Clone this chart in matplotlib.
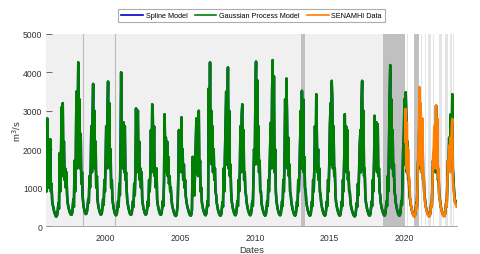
import matplotlib
matplotlib.use("Agg")
import matplotlib.pyplot as plt
import matplotlib.dates as mdates
import pandas as pd

plt.rcParams['font.family'] = ['Liberation Sans', 'DejaVu Sans']

# semi-monthly flow values (m3/s), Jan 1 .. Dec 16 for each year
gp_flow = [
    1650, 900, 2800, 1100, 2000, 1000, 1600, 2260, 900, 1100, 650, 550, 480, 400, 340, 290, 250, 250, 290, 400, 600, 450, 1900, 900,  # 1996
    1500, 3090, 1300, 3200, 1600, 2200, 1200, 1500, 1000, 1400, 800, 600, 520, 440, 380, 330, 300, 290, 330, 450, 700, 500, 1700, 900,  # 1997
    1800, 3500, 1500, 2600, 4260, 1800, 3300, 1500, 2400, 1100, 1400, 800, 600, 480, 400, 340, 310, 320, 380, 500, 700, 600, 1300, 1000,  # 1998
    1500, 2600, 1400, 2900, 3700, 1600, 3000, 1500, 2200, 1000, 1300, 700, 560, 470, 400, 340, 300, 300, 350, 480, 700, 550, 1200, 900,  # 1999
    1700, 2600, 1500, 3000, 3760, 1700, 3200, 1500, 2000, 1000, 1200, 700, 560, 460, 390, 330, 290, 280, 320, 450, 650, 500, 1100, 800,  # 2000
    2100, 4000, 1600, 2500, 1500, 2700, 1400, 2600, 1200, 1400, 900, 650, 540, 460, 390, 330, 300, 290, 330, 450, 650, 500, 1100, 800,  # 2001
    1500, 3060, 1400, 2500, 3000, 1500, 2200, 1200, 1500, 1000, 1400, 700, 560, 470, 400, 340, 300, 300, 340, 460, 650, 520, 1200, 900,  # 2002
    1400, 2500, 1400, 3170, 2900, 1500, 2600, 1300, 1500, 1000, 1500, 700, 560, 470, 400, 340, 300, 290, 330, 450, 650, 520, 1150, 2910,  # 2003
    1800, 2300, 1400, 2200, 1300, 1800, 1100, 1300, 900, 1000, 700, 560, 480, 410, 350, 300, 270, 260, 290, 400, 600, 1300, 2500, 1400,  # 2004
    2300, 1500, 2830, 1400, 2000, 1200, 1600, 1000, 1200, 800, 650, 560, 480, 420, 360, 310, 280, 270, 300, 420, 1800, 800, 1100, 800,  # 2005
    1500, 2000, 2800, 1400, 2300, 1300, 3000, 1300, 1700, 900, 1000, 620, 520, 440, 380, 330, 290, 280, 320, 450, 650, 520, 3580, 1800,  # 2006
    4260, 1700, 3000, 1600, 2600, 1400, 2000, 1200, 1500, 900, 800, 600, 500, 420, 360, 310, 280, 270, 300, 420, 620, 500, 1500, 900,  # 2007
    1800, 2500, 3500, 1600, 2800, 4130, 1500, 3000, 1300, 1600, 900, 650, 540, 450, 380, 330, 290, 280, 320, 450, 650, 520, 1200, 900,  # 2008
    1500, 2600, 1400, 2900, 3170, 1500, 2500, 1200, 1400, 900, 800, 620, 520, 440, 380, 330, 290, 280, 320, 450, 650, 520, 1300, 2000,  # 2009
    1600, 3300, 4280, 1800, 3800, 1600, 2600, 1400, 1700, 900, 900, 600, 500, 430, 370, 320, 280, 270, 310, 440, 650, 520, 1200, 900,  # 2010
    1500, 2200, 2700, 1500, 3500, 4320, 1700, 3900, 1400, 2000, 900, 660, 540, 450, 380, 330, 290, 280, 320, 450, 650, 520, 1200, 900,  # 2011
    1800, 3300, 1600, 3840, 2900, 1500, 2300, 1300, 1600, 900, 800, 620, 520, 440, 370, 320, 280, 270, 300, 430, 640, 520, 1200, 900,  # 2012
    1500, 2200, 3000, 1500, 3520, 1600, 3300, 1400, 1800, 1000, 900, 630, 520, 440, 370, 320, 280, 270, 300, 430, 640, 520, 1200, 900,  # 2013
    1600, 2600, 1500, 3430, 2400, 1400, 2000, 1200, 1500, 900, 800, 610, 510, 430, 370, 320, 280, 270, 300, 430, 640, 520, 1200, 900,  # 2014
    1700, 2600, 3200, 1600, 3780, 3300, 1500, 2600, 1300, 1500, 800, 620, 520, 440, 370, 320, 280, 270, 300, 430, 640, 520, 1200, 900,  # 2015
    1800, 2910, 1500, 2600, 1400, 2500, 1200, 1400, 900, 900, 650, 520, 440, 380, 330, 290, 260, 250, 280, 400, 600, 500, 1100, 800,  # 2016
    1500, 2100, 2500, 1400, 3300, 3780, 1500, 3000, 1300, 1500, 800, 620, 520, 440, 370, 320, 280, 270, 300, 430, 640, 520, 1200, 900,  # 2017
    1700, 2870, 1500, 2200, 2700, 1400, 2650, 1300, 1500, 900, 800, 600, 500, 430, 370, 320, 280, 270, 300, 430, 640, 520, 1300, 900,  # 2018
    2000, 3200, 4190, 1700, 3300, 1500, 2500, 1300, 1600, 900, 800, 620, 520, 440, 370, 320, 280, 270, 300, 430, 650, 550, 1400, 2000,  # 2019
    2400, 3300, 1600, 3480, 2800, 1400, 2200, 1200, 1300, 820, 700, 570, 480, 410, 350, 300, 270, 260, 290, 400, 600, 500, 1200, 1700,  # 2020
    1900, 2800, 1500, 3000, 2300, 1400, 2600, 1200, 1300, 800, 700, 540, 460, 400, 340, 300, 270, 260, 290, 400, 600, 500, 1200, 1700,  # 2021
    1500, 2100, 2500, 1400, 3130, 1500, 2200, 1200, 1300, 800, 700, 550, 470, 400, 350, 300, 270, 260, 290, 400, 600, 500, 1200, 1700,  # 2022
    1600, 2300, 1500, 2900, 2600, 1600, 3430, 1500, 1200, 900, 700, 600, 650, 550,  # 2023
]
spline_flow = list(gp_flow)

# SENAMHI observations, semi-monthly from Feb 2020
obs_flow = [
    2200, 3050, 1500, 2700, 1400, 2000, 1100, 1200, 780, 620, 500, 420, 350, 290, 250, 230, 260, 380, 550, 450, 1100, 1800,  # 2020
    2400, 3620, 1600, 3200, 2300, 1400, 2800, 1200, 1300, 760, 620, 520, 440, 380, 320, 280, 250, 240, 270, 400, 580, 480, 1100, 1800,  # 2021
    2000, 2600, 1500, 2400, 3140, 1500, 2800, 1250, 1500, 800, 650, 540, 460, 390, 330, 290, 260, 250, 280, 400, 600, 500, 1100, 1700,  # 2022
    1500, 2100, 1400, 2300, 1700, 2500, 2790, 1200, 1000, 800, 650, 600, 550, 500,  # 2023
]

# shaded periods
dark_spans = [('2013-02-10', '2013-05-10'), ('2018-08-05', '2020-01-25'), ('2020-09-01', '2021-01-01')]
thin_lines = ['1998-07-01', '2000-08-10']
light_spans = [('2020-03-20', '2020-04-05'), ('2020-05-20', '2020-06-10'), ('2021-03-05', '2021-03-25'),
               ('2021-06-10', '2021-06-28'), ('2021-08-20', '2021-10-20'), ('2021-12-20', '2022-01-10'),
               ('2022-05-01', '2022-07-15'), ('2022-09-25', '2022-12-10'), ('2023-01-25', '2023-03-15'),
               ('2023-04-25', '2023-05-12')]

gp_dates = pd.date_range('1996-01-01', periods=len(gp_flow), freq='SMS')
obs_dates = pd.date_range('2020-02-01', periods=len(obs_flow), freq='SMS')

fig = plt.figure(figsize=(4.8, 2.55), dpi=100)
ax = fig.add_axes([0.0958, 0.1098, 0.856, 0.753])

ax.axvspan(pd.Timestamp('1995-12-01'), pd.Timestamp('2020-01-25'), color='#f0f0f0', lw=0, zorder=0)
for a, b in light_spans:
    ax.axvspan(pd.Timestamp(a), pd.Timestamp(b), color='#e4e4e4', lw=0, zorder=0)
for a, b in dark_spans:
    ax.axvspan(pd.Timestamp(a), pd.Timestamp(b), color='#c0c0c0', lw=0, zorder=0)
for d in thin_lines:
    ax.axvline(pd.Timestamp(d), color='#bbbbbb', lw=0.8, zorder=0)

ax.plot(gp_dates, spline_flow, color='#0000c8', lw=1.8, label='Spline Model', zorder=2)
ax.plot(gp_dates, gp_flow, color='#008000', lw=1.8, label='Gaussian Process Model', zorder=3)
ax.plot(obs_dates, obs_flow, color='#ff8000', lw=1.8, label='SENAMHI Data', zorder=4)

ax.set_xlim(pd.Timestamp('1996-01-01'), pd.Timestamp('2023-07-22'))
ax.set_ylim(0, 5000)
ax.set_yticks(range(0, 5001, 1000))
ax.xaxis.set_major_locator(mdates.YearLocator(5))
ax.xaxis.set_major_formatter(mdates.DateFormatter('%Y'))
ax.tick_params(axis='y', direction='in', labelsize=6.2, length=4, width=0.6, color='#555555',
               labelcolor='#333333', pad=2.5)
ax.tick_params(axis='x', labelsize=6.2, length=0, labelcolor='#333333', pad=5)
for s in ['top', 'right', 'left']:
    ax.spines[s].set_visible(False)
ax.spines['bottom'].set_color('#999999')
ax.spines['bottom'].set_linewidth(0.6)

ax.set_xlabel('Dates', fontsize=6.8, color='#333333', labelpad=2)
ax.set_ylabel('m$^3$/s', fontsize=6.8, color='#333333', labelpad=0)

leg = fig.legend(loc='center', bbox_to_anchor=(0.524, 0.935), ncol=3, fontsize=5.2,
                 frameon=True, fancybox=False, edgecolor='#999999', handlelength=3.0,
                 columnspacing=1.0, handletextpad=0.4, borderpad=0.4)
leg.get_frame().set_linewidth(0.8)
for line in leg.get_lines():
    line.set_linewidth(1.2)

fig.savefig('out.png', dpi=100)
